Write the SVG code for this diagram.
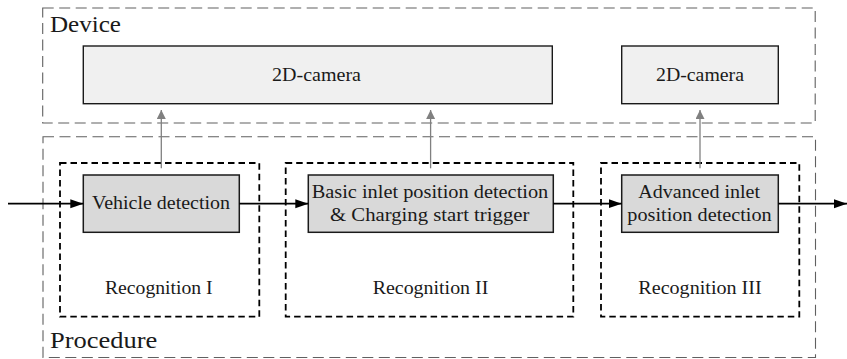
<svg xmlns="http://www.w3.org/2000/svg" width="847" height="359" viewBox="0 0 847 359">
  <style>
    text { font-family: "Liberation Serif", "Times New Roman", "DejaVu Serif", serif; fill: #1a1a1a; }
    .lbl { font-size: 19px; text-anchor: middle; }
    .big { font-size: 24px; }
    .frame { fill: none; stroke: #606060; stroke-width: 1.1; stroke-dasharray: 11 5.5; }
    .stage { fill: none; stroke: #000; stroke-width: 1.8; stroke-dasharray: 6.5 4; }
    .cam { fill: #f0f0f0; stroke: #1a1a1a; stroke-width: 1.4; }
    .proc { fill: #d9d9d9; stroke: #1a1a1a; stroke-width: 1.5; }
    .flow { stroke: #000; stroke-width: 1.7; fill: none; }
    .trig { stroke: #808080; stroke-width: 1.3; fill: none; }
  </style>
  <defs>
    <marker id="headBlack" markerUnits="userSpaceOnUse" markerWidth="14" markerHeight="10" refX="13" refY="4.5" orient="auto">
      <path d="M0,0 L13,4.5 L0,9 Z" fill="#000"/>
    </marker>
    <marker id="headGray" markerUnits="userSpaceOnUse" markerWidth="10" markerHeight="10" refX="9" refY="4.5" orient="auto">
      <path d="M0,0 L9,4.5 L0,9 Z" fill="#808080"/>
    </marker>
  </defs>

  <!-- Outer frames -->
  <g id="device">
    <rect class="frame" x="42.7" y="8" width="772.5" height="115"/>
    <text class="big" x="50" y="32.3" textLength="71" lengthAdjust="spacingAndGlyphs">Device</text>
  </g>
  <g id="procedure">
    <rect class="frame" x="43" y="136.7" width="772.5" height="220.8"/>
    <text class="big" x="50" y="348.3" textLength="107.3" lengthAdjust="spacingAndGlyphs">Procedure</text>
  </g>

  <!-- Recognition stages -->
  <g id="recognition1">
    <rect class="stage" x="60" y="163" width="199.3" height="153.7"/>
    <text class="lbl" x="158.8" y="294" textLength="107.7" lengthAdjust="spacingAndGlyphs">Recognition I</text>
  </g>
  <g id="recognition2">
    <rect class="stage" x="285.7" y="163" width="287.6" height="153.7"/>
    <text class="lbl" x="430.5" y="294" textLength="115.7" lengthAdjust="spacingAndGlyphs">Recognition II</text>
  </g>
  <g id="recognition3">
    <rect class="stage" x="601" y="163" width="198.3" height="153.7"/>
    <text class="lbl" x="700" y="294" textLength="123.3" lengthAdjust="spacingAndGlyphs">Recognition III</text>
  </g>

  <!-- Cameras -->
  <g id="camera1">
    <rect class="cam" x="83.3" y="46" width="469" height="57.7"/>
    <text class="lbl" x="316.5" y="81" textLength="89" lengthAdjust="spacingAndGlyphs">2D-camera</text>
  </g>
  <g id="camera2">
    <rect class="cam" x="621.7" y="46" width="156.6" height="57.7"/>
    <text class="lbl" x="700" y="81" textLength="88" lengthAdjust="spacingAndGlyphs">2D-camera</text>
  </g>

  <!-- Processing steps -->
  <g id="vehicle-detection">
    <rect class="proc" x="83.3" y="175" width="156" height="57.3"/>
    <text class="lbl" x="161" y="209" textLength="138" lengthAdjust="spacingAndGlyphs">Vehicle detection</text>
  </g>
  <g id="basic-inlet">
    <rect class="proc" x="308.3" y="175" width="245" height="57.3"/>
    <text class="lbl" x="430" y="197.7" textLength="236.6" lengthAdjust="spacingAndGlyphs">Basic inlet position detection</text>
    <text class="lbl" x="429.7" y="220.7" textLength="199.3" lengthAdjust="spacingAndGlyphs">&amp; Charging start trigger</text>
  </g>
  <g id="advanced-inlet">
    <rect class="proc" x="621.7" y="175" width="156.6" height="57.3"/>
    <text class="lbl" x="699.2" y="197.7" textLength="121.7" lengthAdjust="spacingAndGlyphs">Advanced inlet</text>
    <text class="lbl" x="699.5" y="220.7" textLength="144.4" lengthAdjust="spacingAndGlyphs">position detection</text>
  </g>

  <!-- Connectors -->
  <g id="connectors">
    <line class="flow" x1="8" y1="203.7" x2="83.3" y2="203.7" marker-end="url(#headBlack)"/>
    <line class="flow" x1="239.3" y1="203.7" x2="308.3" y2="203.7" marker-end="url(#headBlack)"/>
    <line class="flow" x1="553.3" y1="203.7" x2="621.7" y2="203.7" marker-end="url(#headBlack)"/>
    <line class="flow" x1="778.3" y1="203.7" x2="847" y2="203.7" marker-end="url(#headBlack)"/>
    <line class="trig" x1="161.3" y1="168.3" x2="161.3" y2="110" marker-end="url(#headGray)"/>
    <line class="trig" x1="430.6" y1="168.3" x2="430.6" y2="110" marker-end="url(#headGray)"/>
    <line class="trig" x1="700" y1="168.3" x2="700" y2="110" marker-end="url(#headGray)"/>
  </g>
</svg>
